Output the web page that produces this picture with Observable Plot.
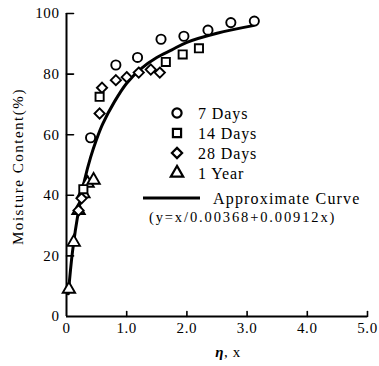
<!DOCTYPE html>
<html><head><meta charset="utf-8">
<script src="https://cdn.jsdelivr.net/npm/d3@7"></script>
<script src="https://cdn.jsdelivr.net/npm/@observablehq/plot@0.6"></script>
<style>
body{margin:0;background:#fff;}
#wrap{position:relative;width:379px;height:366px;}
</style></head><body><div id="wrap"></div>
<script>
// 7 Days
const days7X = [0.40, 0.82, 1.18, 1.57, 1.95, 2.35, 2.73, 3.12];
const days7Y = [59, 83, 85.5, 91.5, 92.5, 94.5, 97, 97.5];
// 14 Days
const days14X = [0.28, 0.55, 1.65, 1.93, 2.20];
const days14Y = [42, 72.5, 84, 86.5, 88.5];
// 28 Days
const days28X = [0.20, 0.25, 0.55, 0.59, 0.82, 1.00, 1.20, 1.40, 1.55];
const days28Y = [35, 39, 67, 75.5, 78, 79, 80.5, 81.5, 80.5];
// 1 Year
const year1X = [0.04, 0.12, 0.20, 0.28, 0.35, 0.45];
const year1Y = [9, 24.5, 35, 40.5, 44, 45];
// Approximate curve
const curveX = [0.03, 0.1, 0.2, 0.3, 0.4, 0.5, 0.6, 0.8, 1.0, 1.25, 1.5, 1.75, 2.0, 2.5, 3.1];
const curveY = [7.5, 21.5, 35, 45, 52.5, 58.5, 63.5, 71, 77, 82, 85.5, 88, 90.5, 93.5, 96];

const xTicks = [0, 1, 2, 3, 4, 5];
const xTickLabels = ["0", "1.0", "2.0", "3.0", "4.0", "5.0"];
const yTicks = [0, 20, 40, 60, 80, 100];

const legendNames = ["7 Days", "14 Days", "28 Days", "1 Year"];
const legendSymbols = ["circle", "square", "diamond2", "triangle"];
const curveName = "Approximate Curve";
const formulaText = "(y=x/0.00368+0.00912x)";
const xLabel = "η, x";
const yLabel = "Moisture Content(%)";

const zip = (xs, ys) => xs.map((x, i) => ({x, y: ys[i]}));
const series = [zip(days7X, days7Y), zip(days14X, days14Y), zip(days28X, days28Y), zip(year1X, year1Y)];
const curve = zip(curveX, curveY);

const font = "'Liberation Serif', 'DejaVu Serif', serif";
const dotOpts = sym => ({x: "x", y: "y", symbol: () => sym, r: 4.6, fill: "white", stroke: "black", strokeWidth: 1.9});
const tickShape = {draw(context, l) { context.moveTo(0, 0); context.lineTo(0, -l); }};

const chart = Plot.plot({
  width: 379, height: 366,
  marginLeft: 66, marginRight: 12, marginTop: 13, marginBottom: 50,
  style: {fontFamily: font, fontSize: "15px", color: "black", background: "white", letterSpacing: "0.6px"},
  x: {domain: [0, 5]},
  y: {domain: [0, 100]},
  symbol: {type: "identity"},
  marks: [
    Plot.axisX({ticks: xTicks, tickFormat: d => xTickLabels[xTicks.indexOf(d)], tickSize: 0, tickPadding: 6, label: null}),
    Plot.axisY({ticks: yTicks, tickSize: 0, tickPadding: 7, label: null}),
    Plot.vector(xTicks.slice(1), {x: d => d, y: () => 0, length: 5, rotate: 0, anchor: "start", shape: tickShape, stroke: "black", strokeWidth: 1.6}),
    Plot.vector(yTicks.slice(1), {x: () => 0, y: d => d, length: 7, rotate: 90, anchor: "start", shape: tickShape, stroke: "black", strokeWidth: 1.6}),
    Plot.ruleX([0], {strokeWidth: 2}),
    Plot.ruleY([0], {strokeWidth: 2}),
    Plot.line(curve, {x: "x", y: "y", stroke: "black", strokeWidth: 3, curve: "catmull-rom"}),
    Plot.dot(series[3], dotOpts("triangle")),
    Plot.dot(series[2], dotOpts("diamond2")),
    Plot.dot(series[1], dotOpts("square")),
    Plot.dot(series[0], dotOpts("circle"))
  ]
});
document.getElementById("wrap").appendChild(chart);

// Legend and axis titles overlay
const svg = d3.select(chart);
const g = svg.append("g").attr("font-family", font).attr("fill", "black").attr("text-anchor", "start");
const symMap = {circle: d3.symbolCircle, square: d3.symbolSquare, diamond2: d3.symbolDiamond2, triangle: d3.symbolTriangle};
legendNames.forEach((name, i) => {
  const y = 113 + i * 20;
  g.append("path")
    .attr("d", d3.symbol(symMap[legendSymbols[i]], Math.PI * 4.6 * 4.6)())
    .attr("transform", `translate(177,${y})`)
    .attr("fill", "white").attr("stroke", "black").attr("stroke-width", 2.2);
  g.append("text").attr("x", 198).attr("y", y).attr("dy", "0.36em")
    .attr("font-size", 16).attr("letter-spacing", "0.9px").text(name);
});
g.append("line").attr("x1", 143).attr("x2", 200).attr("y1", 198).attr("y2", 198)
  .attr("stroke", "black").attr("stroke-width", 3);
g.append("text").attr("x", 213).attr("y", 198).attr("dy", "0.36em")
  .attr("font-size", 16).attr("textLength", 147).attr("lengthAdjust", "spacing").text(curveName);
g.append("text").attr("x", 149).attr("y", 217).attr("dy", "0.36em")
  .attr("font-size", 14.5).attr("textLength", 186).attr("lengthAdjust", "spacing").text(formulaText);
g.append("text").attr("x", 228).attr("y", 352).attr("dy", "0.36em").attr("text-anchor", "middle")
  .attr("font-size", 15).attr("font-weight", "bold")
  .html('<tspan font-style="italic">η</tspan><tspan font-weight="normal">, x</tspan>');
g.append("text").attr("transform", "translate(18,167) rotate(-90)").attr("dy", "0.36em")
  .attr("text-anchor", "middle").attr("font-size", 15).attr("textLength", 156).attr("lengthAdjust", "spacing")
  .text(yLabel);
</script></body></html>
